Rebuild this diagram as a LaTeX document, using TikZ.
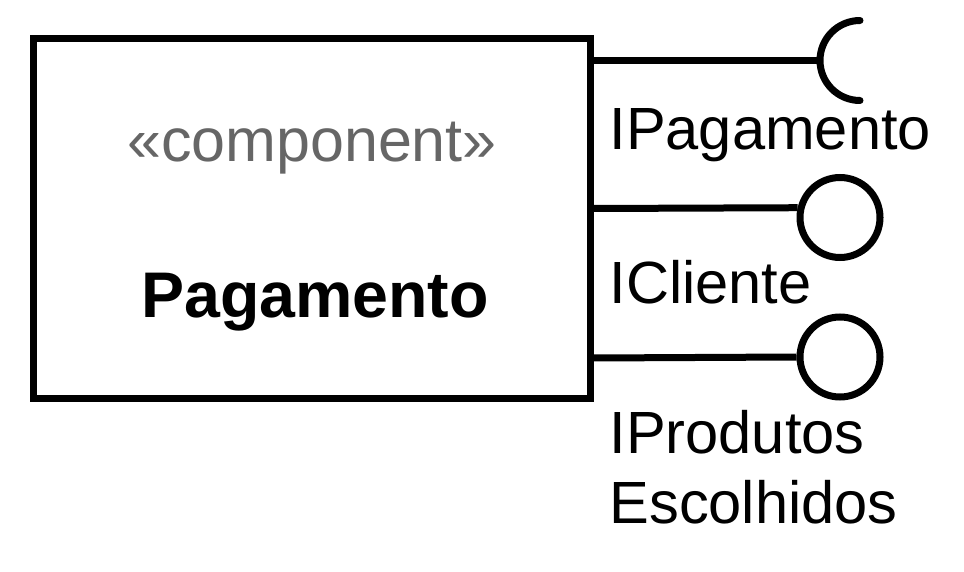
\documentclass[tikz,border=0pt]{standalone}
\usepackage{fontspec}
\setmainfont{Liberation Sans}
\usepackage{xcolor}
\definecolor{stereogray}{HTML}{666666}

\begin{document}
\begin{tikzpicture}[x=1pt,y=-1pt,line width=7pt,
    comp/.style={draw,rectangle,minimum width=556.5pt,minimum height=359.5pt,inner sep=0pt},
    lollipop/.style={draw,circle,minimum size=80pt,inner sep=0pt},
    label/.style={inner sep=0pt,anchor=base west,font=\fontsize{59.6}{70}\selectfont}]
  \useasboundingbox (0,0) rectangle (964,572);

  % component box
  \node[comp] (pag) at (311.75,218.25) {};
  \node[inner sep=0pt,anchor=base,text=stereogray,font=\fontsize{61}{70}\selectfont]
    (stereo) at (312,162) {«component»};
  \node[inner sep=0pt,anchor=base,font=\fontsize{64.5}{70}\selectfont\bfseries]
    (name) at (315,317) {Pagamento};

  % required interface
  \coordinate (sock) at (820,60.5);
  \draw (pag.east |- sock) -- (sock);
  \draw[line cap=round] (860,20.5) arc (-90:-270:40);
  \node[label] (lpag) at (606,150) {IPagamento};

  % provided interfaces
  \node[lollipop] (icli) at (840,217.5) {};
  \draw (pag.east |- 0,208.5) -- (icli.167);
  \node[label] (lcli) at (606,303) {ICliente};

  \node[lollipop] (iprod) at (840,357) {};
  \draw (pag.east |- 0,358) -- (iprod.west);
  \node[label,align=left] (lprod) at (606,523) {IProdutos\\Escolhidos};
\end{tikzpicture}
\end{document}
